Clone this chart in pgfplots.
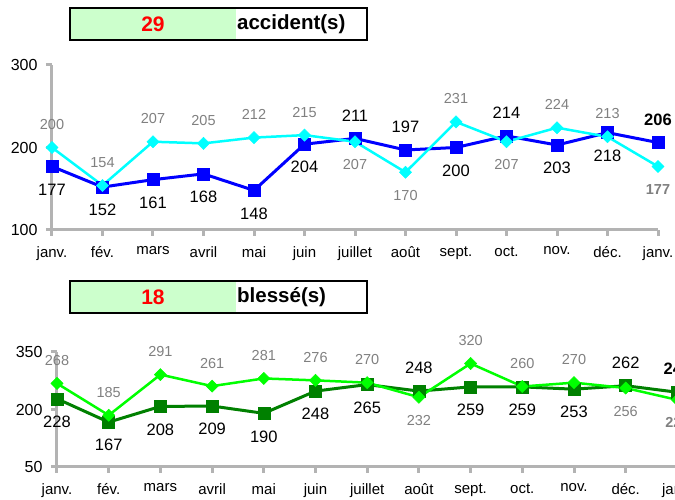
\documentclass[border=0pt]{standalone}
\usepackage{pgfplots}
\pgfplotsset{compat=1.18}
\usepackage{fontspec}
\setmainfont{Liberation Sans}

\definecolor{axgray}{HTML}{B3B3B3}
\definecolor{lblgray}{HTML}{808080}
\definecolor{boxgreen}{HTML}{CCFFCC}
\definecolor{dkgreen}{HTML}{008000}
\definecolor{ltgreen}{HTML}{00FF00}
\definecolor{mycyan}{HTML}{00FFFF}
\definecolor{myblue}{HTML}{0000FF}

\pgfplotsset{
  monthaxis/.style={
    scale only axis, xmin=0, xmax=12,
    axis x line=bottom, axis y line=left,
    axis line style={-, axgray, line width=3pt},
    tick style={axgray, line width=3pt},
    major tick length=6pt, tick align=outside,
    xtick={0,...,12},
    xticklabels={janv.,fév.,mars,avril,mai,juin,juillet,août,sept.,oct.,nov.,déc.,janv.},
    tick label style={font=\fontsize{15}{18}\selectfont, text=black},
    xticklabel style={yshift=-7pt},
    yticklabel style={xshift=-5pt, font=\fontsize{16}{18}\selectfont},
    /pgf/number format/assume math mode=true,
    clip=false,
  },
  lblA/.style 2 args={draw=none, mark=none, forget plot, nodes near coords,
    point meta=explicit symbolic,
    every node near coord/.style={anchor=center, yshift=23pt, inner sep=0pt,
      text=#2, font=\fontsize{#1}{18}\selectfont}},
  lblB/.style 2 args={draw=none, mark=none, forget plot, nodes near coords,
    point meta=explicit symbolic,
    every node near coord/.style={anchor=center, yshift=-23pt, inner sep=0pt,
      text=#2, font=\fontsize{#1}{18}\selectfont}},
  lblAb/.style 2 args={draw=none, mark=none, forget plot, nodes near coords,
    point meta=explicit symbolic,
    every node near coord/.style={anchor=center, yshift=23pt, inner sep=0pt,
      text=#2, font=\fontsize{#1}{18}\selectfont\bfseries}},
  lblBb/.style 2 args={draw=none, mark=none, forget plot, nodes near coords,
    point meta=explicit symbolic,
    every node near coord/.style={anchor=center, yshift=-23pt, inner sep=0pt,
      text=#2, font=\fontsize{#1}{18}\selectfont\bfseries}},
}

\begin{document}
\begin{tikzpicture}
\path[use as bounding box] (0,0) rectangle (675pt,500pt);
\clip (0,0) rectangle (675pt,500pt);

% title boxes
\fill[boxgreen] (70pt,460pt) rectangle (236pt,492pt);
\draw[black, line width=1.5pt] (70pt,460pt) rectangle (367pt,492pt);
\node[font=\fontsize{21}{24}\selectfont\bfseries, text=red] at (153pt,476pt) {29};
\node[font=\fontsize{20.5}{24}\selectfont\bfseries, anchor=west, inner sep=0pt] at (237pt,476pt) {accident(s)};

\fill[boxgreen] (70pt,187pt) rectangle (236pt,219pt);
\draw[black, line width=1.5pt] (70pt,187pt) rectangle (367pt,219pt);
\node[font=\fontsize{21}{24}\selectfont\bfseries, text=red] at (153pt,203pt) {18};
\node[font=\fontsize{20.5}{24}\selectfont\bfseries, anchor=west, inner sep=0pt] at (237pt,203pt) {blessé(s)};

% ---------------- accidents ----------------
\begin{axis}[monthaxis, at={(52pt,270pt)}, anchor=south west,
  width=606pt, height=165pt, ymin=100, ymax=300, ytick={100,200,300}]
\addplot[myblue, line width=3pt, mark=square*, mark size=6pt,
  mark options={solid, line width=0.5pt, fill=myblue}]
  coordinates {(0,177) (1,152) (2,161) (3,168) (4,148) (5,204) (6,211)
               (7,197) (8,200) (9,214) (10,203) (11,218) (12,206)};
\addplot[mycyan, line width=2.5pt, mark=square*, mark size=4.3pt,
  mark options={solid, rotate=45, line width=0.5pt, fill=mycyan}]
  coordinates {(0,200) (1,154) (2,207) (3,205) (4,212) (5,215) (6,207)
               (7,170) (8,231) (9,207) (10,224) (11,213) (12,177)};
% labels, current year
\addplot[lblB={16.5}{black}] coordinates {(0,177)[177] (1,152)[152] (2,161)[161]
  (3,168)[168] (4,148)[148] (5,204)[204] (8,200)[200] (10,203)[203] (11,218)[218]};
\addplot[lblA={16.5}{black}] coordinates {(6,211)[211] (7,197)[197] (9,214)[214]};
\addplot[lblAb={16.5}{black}] coordinates {(12,206)[206]};
% labels, previous year
\addplot[lblA={14.5}{lblgray}] coordinates {(0,200)[200] (1,154)[154] (2,207)[207]
  (3,205)[205] (4,212)[212] (5,215)[215] (8,231)[231] (10,224)[224] (11,213)[213]};
\addplot[lblB={14.5}{lblgray}] coordinates {(6,207)[207] (7,170)[170] (9,207)[207]};
\addplot[lblBb={14.5}{lblgray}] coordinates {(12,177)[177]};
\end{axis}

% ---------------- blessés ----------------
\begin{axis}[monthaxis, at={(57pt,33pt)}, anchor=south west,
  width=620.4pt, height=115pt, ymin=50, ymax=350, ytick={50,200,350}]
\addplot[dkgreen, line width=3pt, mark=square*, mark size=6pt,
  mark options={solid, line width=0.5pt, fill=dkgreen}]
  coordinates {(0,228) (1,167) (2,208) (3,209) (4,190) (5,248) (6,265)
               (7,248) (8,259) (9,259) (10,253) (11,262) (12,245)};
\addplot[ltgreen, line width=2.5pt, mark=square*, mark size=4.3pt,
  mark options={solid, rotate=45, line width=0.5pt, fill=ltgreen}]
  coordinates {(0,268) (1,185) (2,291) (3,261) (4,281) (5,276) (6,270)
               (7,232) (8,320) (9,260) (10,270) (11,256) (12,225)};
\addplot[lblB={16.5}{black}] coordinates {(0,228)[228] (1,167)[167] (2,208)[208]
  (3,209)[209] (4,190)[190] (5,248)[248] (6,265)[265] (8,259)[259] (9,259)[259] (10,253)[253]};
\addplot[lblA={16.5}{black}] coordinates {(7,248)[248] (11,262)[262]};
\addplot[lblAb={16.5}{black}] coordinates {(12,245)[245]};
\addplot[lblA={14.5}{lblgray}] coordinates {(0,268)[268] (1,185)[185] (2,291)[291]
  (3,261)[261] (4,281)[281] (5,276)[276] (6,270)[270] (8,320)[320] (9,260)[260] (10,270)[270]};
\addplot[lblB={14.5}{lblgray}] coordinates {(7,232)[232] (11,256)[256]};
\addplot[lblBb={14.5}{lblgray}] coordinates {(12,225)[225]};
\end{axis}
\end{tikzpicture}
\end{document}
